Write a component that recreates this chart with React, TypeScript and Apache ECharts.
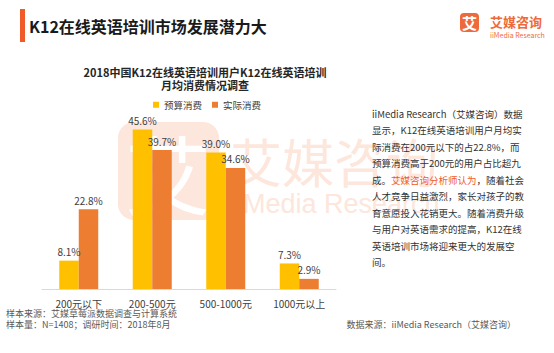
import React, { useEffect, useRef } from "react";
import * as echarts from "echarts";

const categories = ["200元以下", "200-500元", "500-1000元", "1000元以上"];
const budgetValues = [8.1, 45.6, 39.0, 7.3];
const actualValues = [22.8, 39.7, 34.6, 2.9];
const seriesNames = ["预算消费", "实际消费"];

const pageTitle = "K12在线英语培训市场发展潜力大";
const chartTitle = "2018中国K12在线英语培训用户K12在线英语培训\n月均消费情况调查";
const bodyLines: [string, string, string][] = [
  ["iiMedia Research（艾媒咨询）数据", "", ""],
  ["显示，K12在线英语培训用户月均实", "", ""],
  ["际消费在200元以下的占22.8%，而", "", ""],
  ["预算消费高于200元的用户占比超九", "", ""],
  ["成。", "艾媒咨询分析师认为", "，随着社会"],
  ["人才竞争日益激烈，家长对孩子的教", "", ""],
  ["育意愿投入花销更大。随着消费升级", "", ""],
  ["与用户对英语需求的提高，K12在线", "", ""],
  ["英语培训市场将迎来更大的发展空", "", ""],
  ["间。", "", ""],
];
const footLeft1 = "样本来源：艾媒草莓派数据调查与计算系统";
const footLeft2 = "样本量：N=1408；调研时间：2018年8月";
const footRight = "数据来源：iiMedia Research（艾媒咨询）";

const FONT = "'Noto Sans CJK SC', 'Noto Sans', sans-serif";
const WM = "#fde6db";

export default function App() {
  const ref = useRef<HTMLDivElement>(null);
  useEffect(() => {
    if (!ref.current) return;
    const chart = echarts.init(ref.current, null, { renderer: "svg" });
    const bodyGraphics = bodyLines.map((l, i) => ({
      type: "text",
      x: 372,
      y: 113.5 + i * 16.5,
      z: 10,
      style: {
        text: `{a|${l[0]}}` + (l[1] ? `{b|${l[1]}}` : "") + (l[2] ? `{a|${l[2]}}` : ""),
        verticalAlign: "middle",
        rich: {
          a: { fontSize: 9.5, fill: "#333333", fontFamily: FONT },
          b: { fontSize: 9.5, fill: "#f05a28", fontFamily: FONT },
        },
      },
    }));
    chart.setOption({
      animation: false,
      backgroundColor: "#ffffff",
      textStyle: { fontFamily: FONT },
      title: {
        text: chartTitle,
        left: 200,
        textAlign: "center",
        top: 60,
        textStyle: { fontSize: 11, fontWeight: "bold", color: "#262626", lineHeight: 13, fontFamily: FONT },
      },
      legend: {
        top: 95,
        left: 148,
        itemWidth: 6,
        itemHeight: 6,
        itemGap: 10,
        icon: "rect",
        textStyle: { fontSize: 9.5, color: "#404040", fontFamily: FONT },
        data: seriesNames,
      },
      grid: { left: 42, right: 218, top: 114, bottom: 64 },
      xAxis: {
        type: "category",
        data: categories,
        axisLine: { lineStyle: { color: "#d9d9d9" } },
        axisTick: { show: false },
        axisLabel: { fontSize: 10, color: "#404040", margin: 9, fontFamily: FONT },
      },
      yAxis: { type: "value", min: 0, max: 50, show: false, splitLine: { show: false } },
      graphic: [
        // watermark
        { type: "rect", shape: { x: 118, y: 122, width: 101, height: 98, r: 16 }, style: { fill: WM }, z: -10 },
        { type: "text", x: 168, y: 171, style: { text: "艾", fontSize: 86, fill: "#ffffff", align: "center", verticalAlign: "middle", fontFamily: FONT }, z: -9 },
        { type: "text", x: 230, y: 160, style: { text: "艾媒咨询", fontSize: 52, fill: WM, verticalAlign: "middle", fontFamily: FONT }, z: -10 },
        { type: "text", x: 231, y: 204, style: { text: "iiMedia Research", fontSize: 27, fill: WM, verticalAlign: "middle", fontFamily: "'Liberation Sans', Arial, sans-serif" }, z: -10 },
        // header
        { type: "rect", shape: { x: 20, y: 9, width: 5, height: 33 }, style: { fill: "#f05a28" } },
        { type: "text", x: 29, y: 25.5, style: { text: pageTitle, fontSize: 16, fontWeight: "bold", fill: "#1a1a1a", verticalAlign: "middle", fontFamily: FONT } },
        // logo
        { type: "rect", shape: { x: 460, y: 13, width: 19, height: 19, r: 4 }, style: { fill: "#ef6a3b" } },
        { type: "text", x: 469.5, y: 22.5, style: { text: "艾", fontSize: 15, fontWeight: "bold", fill: "#ffffff", align: "center", verticalAlign: "middle", fontFamily: FONT } },
        { type: "text", x: 490, y: 21, style: { text: "艾媒咨询", fontSize: 13, fontWeight: "bold", fill: "#ef6a3b", verticalAlign: "middle", fontFamily: FONT } },
        { type: "text", x: 490, y: 34.5, style: { text: "iiMedia Research", fontSize: 7, fill: "#ef6a3b", verticalAlign: "middle", fontFamily: FONT } },
        ...bodyGraphics,
        // footer
        { type: "text", x: 6, y: 313, style: { text: footLeft1, fontSize: 9, fill: "#595959", verticalAlign: "middle", fontFamily: FONT } },
        { type: "text", x: 6, y: 324, style: { text: footLeft2, fontSize: 9, fill: "#595959", verticalAlign: "middle", fontFamily: FONT } },
        { type: "text", x: 516, y: 324, style: { text: footRight, fontSize: 9, fill: "#595959", align: "right", verticalAlign: "middle", fontFamily: FONT } },
      ],
      series: [
        {
          name: seriesNames[0],
          type: "bar",
          data: budgetValues,
          barWidth: 19.5,
          barGap: "0%",
          itemStyle: { color: "#ffc000" },
          label: { show: true, position: "top", distance: 4, formatter: (p: any) => p.value.toFixed(1) + "%", fontSize: 10, color: "#404040", fontFamily: FONT },
        },
        {
          name: seriesNames[1],
          type: "bar",
          data: actualValues,
          barWidth: 19.5,
          barGap: "0%",
          itemStyle: { color: "#ed7d31" },
          label: { show: true, position: "top", distance: 4, formatter: (p: any) => p.value.toFixed(1) + "%", fontSize: 10, color: "#404040", fontFamily: FONT },
        },
      ],
    });
    return () => chart.dispose();
  }, []);
  return <div ref={ref} style={{ width: 554, height: 353, position: "absolute", left: 0, top: 0 }} />;
}
